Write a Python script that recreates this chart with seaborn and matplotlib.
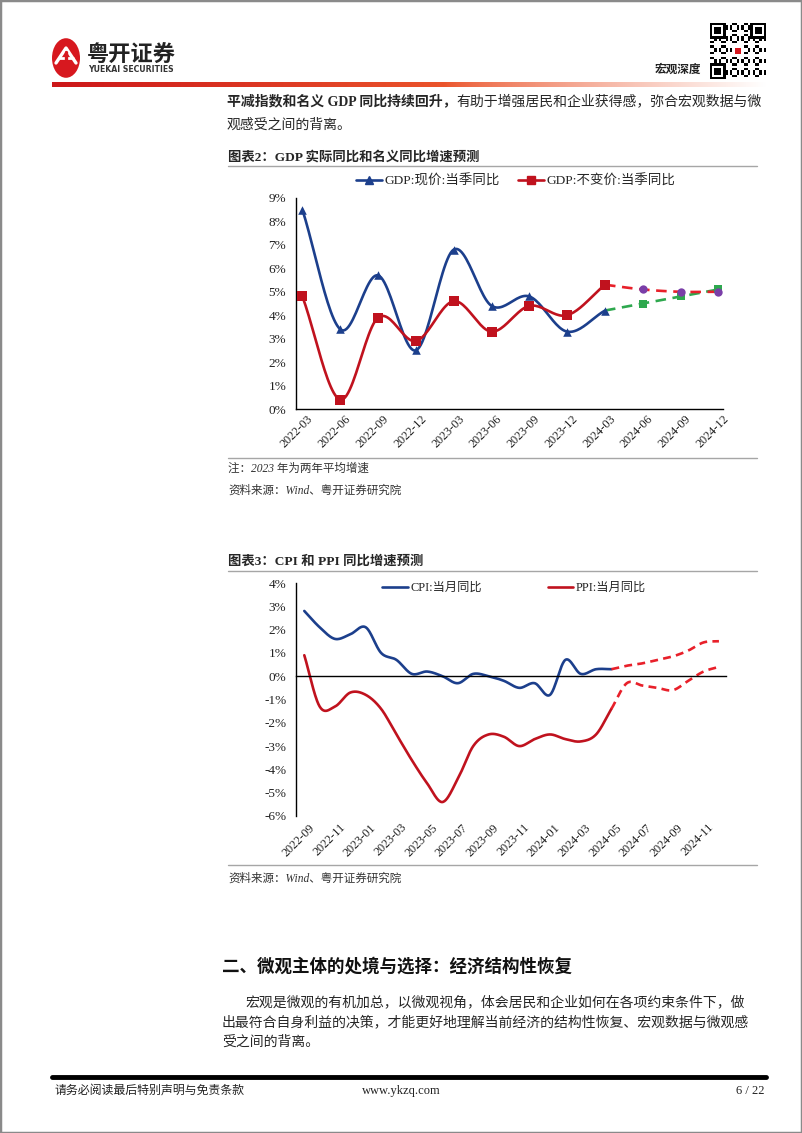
import numpy as np
import matplotlib
matplotlib.use('Agg')
import matplotlib.pyplot as plt
import seaborn as sns
from matplotlib.lines import Line2D
from matplotlib.patches import Rectangle, Circle
from matplotlib.font_manager import FontProperties

# ---------------- data ----------------
gdp_quarters = ['2022-03', '2022-06', '2022-09', '2022-12', '2023-03', '2023-06',
                '2023-09', '2023-12', '2024-03', '2024-06', '2024-09', '2024-12']
gdp_nominal = [8.5, 3.4, 5.7, 2.5, 6.8, 4.4, 4.8, 3.3, 4.2]          # 2022-03 .. 2024-03
gdp_nominal_fcst = [4.2, 4.5, 4.8, 5.1]                              # 2024-03 .. 2024-12
gdp_real = [4.8, 0.4, 3.9, 2.9, 4.6, 3.3, 4.4, 4.0, 5.3]             # 2022-03 .. 2024-03
gdp_real_fcst = [5.3, 5.1, 5.0, 5.0]                                 # 2024-03 .. 2024-12
gdp_yticks = [0, 1, 2, 3, 4, 5, 6, 7, 8, 9]
gdp_yticklabels = ['0%', '1%', '2%', '3%', '4%', '5%', '6%', '7%', '8%', '9%']
gdp_legend = ['GDP:现价:当季同比', 'GDP:不变价:当季同比']

cpi_months = ['2022-09', '2022-10', '2022-11', '2022-12', '2023-01', '2023-02', '2023-03',
              '2023-04', '2023-05', '2023-06', '2023-07', '2023-08', '2023-09', '2023-10',
              '2023-11', '2023-12', '2024-01', '2024-02', '2024-03', '2024-04', '2024-05',
              '2024-06', '2024-07', '2024-08', '2024-09', '2024-10', '2024-11', '2024-12']
cpi_actual = [2.8, 2.1, 1.6, 1.8, 2.1, 1.0, 0.7, 0.1, 0.2, 0.0, -0.3, 0.1, 0.0, -0.2,
              -0.5, -0.3, -0.8, 0.7, 0.1, 0.3, 0.3]                  # 2022-09 .. 2024-05
cpi_fcst = [0.3, 0.45, 0.55, 0.7, 0.85, 1.1, 1.45, 1.5]              # 2024-05 .. 2024-12
ppi_actual = [0.9, -1.3, -1.3, -0.7, -0.8, -1.4, -2.5, -3.6, -4.6, -5.4, -4.4, -3.0,
              -2.5, -2.6, -3.0, -2.7, -2.5, -2.7, -2.8, -2.5, -1.4]  # 2022-09 .. 2024-05
ppi_fcst = [-1.4, -0.3, -0.4, -0.5, -0.6, -0.2, 0.2, 0.4]            # 2024-05 .. 2024-12
cpi_xlabels = ['2022-09', '2022-11', '2023-01', '2023-03', '2023-05', '2023-07', '2023-09',
               '2023-11', '2024-01', '2024-03', '2024-05', '2024-07', '2024-09', '2024-11']
cpi_yticks = [4, 3, 2, 1, 0, -1, -2, -3, -4, -5, -6]
cpi_yticklabels = ['4%', '3%', '2%', '1%', '0%', '-1%', '-2%', '-3%', '-4%', '-5%', '-6%']
cpi_legend = ['CPI:当月同比', 'PPI:当月同比']

# ---------------- style ----------------
sns.set_theme(style='white')
plt.rcParams['font.family'] = ['Liberation Serif', 'Noto Sans CJK SC', 'DejaVu Sans']
plt.rcParams['axes.unicode_minus'] = False

MIX = ['Liberation Serif', 'Noto Sans CJK SC', 'DejaVu Sans']
CJK = ['Noto Sans CJK SC', 'DejaVu Sans']

blue = '#1C3F8C'
red = '#C0121E'
red_d = '#E8202A'
green = '#2EA84E'
purple = '#7A3EA8'

YT = 9.5    # y tick label size
XT = 8.8    # x tick label size

W, H = 802, 1133
fig = plt.figure(figsize=(W / 100, H / 100), dpi=100)
fig.patch.set_facecolor('white')


def fx(x):
    return x / W


def fy(y):
    return 1 - y / H


def add_ax(l, t, r, b):
    return fig.add_axes([l / W, 1 - b / H, (r - l) / W, (b - t) / H])


def T(x, y, s, **kw):
    return fig.text(fx(x), fy(y), s, **kw)


def hline(x0, x1, y, color='#A6A6A6', lw=1.0):
    fig.add_artist(Line2D([fx(x0), fx(x1)], [fy(y), fy(y)], color=color, lw=lw,
                          transform=fig.transFigure))


def smooth(x, y, n=24):
    x = np.asarray(x, float)
    y = np.asarray(y, float)
    if len(x) < 3:
        return x, y
    m = np.zeros_like(y)
    m[1:-1] = (y[2:] - y[:-2]) / (x[2:] - x[:-2])
    m[0] = (y[1] - y[0]) / (x[1] - x[0])
    m[-1] = (y[-1] - y[-2]) / (x[-1] - x[-2])
    xs, ys = [], []
    for i in range(len(x) - 1):
        h = x[i + 1] - x[i]
        t = np.linspace(0, 1, n, endpoint=(i == len(x) - 2))
        h00 = 2 * t**3 - 3 * t**2 + 1
        h10 = t**3 - 2 * t**2 + t
        h01 = -2 * t**3 + 3 * t**2
        h11 = t**3 - t**2
        xs.append(x[i] + t * h)
        ys.append(h00 * y[i] + h10 * h * m[i] + h01 * y[i + 1] + h11 * h * m[i + 1])
    return np.concatenate(xs), np.concatenate(ys)


def sline(ax, x, y, color, lw=1.8, ls='-'):
    xs, ys = smooth(x, y)
    sns.lineplot(x=xs, y=ys, ax=ax, color=color, linewidth=lw, linestyle=ls,
                 sort=False, estimator=None, zorder=2)


renderer = fig.canvas.get_renderer()


def runs(x, y, parts, size, family=MIX):
    for s, w in parts:
        t = fig.text(fx(x), fy(y), s, fontsize=size, fontweight=w, family=family,
                     va='center', ha='left')
        bb = t.get_window_extent(renderer=renderer)
        x += bb.width


# ---------------- page frame / header ----------------
fig.add_artist(Rectangle((0, 0), 1, 1, transform=fig.transFigure, fill=False,
                         edgecolor='#8a8a8a', lw=2.5))

# logo
fig.add_artist(Circle((fx(66), fy(58)), 14 / W, transform=fig.transFigure,
                      facecolor='#D7181F', edgecolor='none'))
fig.add_artist(Line2D([fx(56), fx(66), fx(76)], [fy(63), fy(48), fy(63)], color='white',
                      lw=2.4, transform=fig.transFigure, solid_capstyle='round'))
fig.add_artist(Line2D([fx(59), fx(73)], [fy(58), fy(58)], color='white', lw=2,
                      transform=fig.transFigure))
fig.add_artist(Line2D([fx(66), fx(66)], [fy(52), fy(72)], color='#D7181F', lw=2.4,
                      transform=fig.transFigure))
T(87, 55, '粤开证券', fontsize=16, fontweight='bold', family=CJK, va='center', ha='left',
  color='#222222')
T(88, 70, 'YUEKAI SECURITIES', fontsize=5.6, fontweight='bold', family=['DejaVu Sans'],
  va='center', ha='left', color='#333333')
T(655, 69, '宏观深度', fontsize=8.4, fontweight='bold', family=CJK, va='center', ha='left',
  color='#222222')

# QR-like placeholder
qax = add_ax(710, 22, 766, 80)
N = 25
qr = np.ones((N, N))
ii, jj = np.mgrid[0:N, 0:N]
qr[((ii * 7 + jj * 11 + ii * jj) % 5) < 2] = 0
for (r0, c0) in [(0, 0), (0, N - 7), (N - 7, 0)]:
    qr[r0:r0 + 7, c0:c0 + 7] = 0
    qr[r0 + 1:r0 + 6, c0 + 1:c0 + 6] = 1
    qr[r0 + 2:r0 + 5, c0 + 2:c0 + 5] = 0
qr[10:15, 10:15] = 1
qax.imshow(qr, cmap='gray', interpolation='nearest', vmin=0, vmax=1)
qax.add_patch(Rectangle((10.5, 10.5), 3, 3, facecolor='#D7181F', edgecolor='none'))
qax.axis('off')

# gradient bar
gax = add_ax(52, 82, 766, 87)
g = np.linspace(0, 1, 400)
c0 = np.array([0.80, 0.09, 0.10])
c1 = np.array([0.92, 0.33, 0.17])
col = np.zeros((1, 400, 3))
for k, t in enumerate(g):
    if t < 0.55:
        c = c0 + (c1 - c0) * (t / 0.55)
    else:
        a = (t - 0.55) / 0.45
        c = c1 + (np.array([1, 1, 1]) - c1) * a**0.8
    col[0, k] = c
gax.imshow(col, aspect='auto', interpolation='bilinear')
gax.axis('off')

# body text top
runs(227, 101, [('平减指数和名义 GDP 同比持续回升，', 'bold'),
                ('有助于增强居民和企业获得感，弥合宏观数据与微', 'normal')], 10)
T(227, 125, '观感受之间的背离。', fontsize=10, family=MIX, va='center', ha='left')

# ---------------- chart 2 (GDP) ----------------
T(228, 157, '图表2：GDP 实际同比和名义同比增速预测', fontsize=9.6, fontweight='bold',
  family=MIX, va='center', ha='left')
hline(228, 757, 166)

ax1 = add_ax(296, 198, 723, 409)
xq = np.arange(len(gdp_quarters))
n_act = len(gdp_nominal)
x_act = xq[:n_act]
x_f = xq[n_act - 1:]

sline(ax1, x_act, gdp_nominal, blue, lw=1.9)
sline(ax1, x_act, gdp_real, red, lw=1.9)
sline(ax1, x_f, gdp_nominal_fcst, green, lw=1.9, ls=(0, (4, 2.5)))
sline(ax1, x_f, gdp_real_fcst, red_d, lw=1.9, ls=(0, (4, 2.5)))

sns.scatterplot(x=x_act, y=gdp_nominal, marker='^', s=38, color=blue, edgecolor=blue,
                linewidth=0, ax=ax1, zorder=4)
sns.scatterplot(x=x_act, y=gdp_real, marker='s', s=42, color=red, edgecolor=red,
                linewidth=0, ax=ax1, zorder=4)
sns.scatterplot(x=x_f[1:], y=gdp_nominal_fcst[1:], marker='s', s=38, color=green,
                edgecolor=green, linewidth=0, ax=ax1, zorder=4)
sns.scatterplot(x=x_f[1:], y=gdp_real_fcst[1:], marker='o', s=36, color=purple,
                edgecolor=purple, linewidth=0, ax=ax1, zorder=5)

ax1.set_xlim(-0.17, 11.07)
ax1.set_ylim(0, 9)
for s in ['top', 'right']:
    ax1.spines[s].set_visible(False)
for s in ['left', 'bottom']:
    ax1.spines[s].set_color('black')
    ax1.spines[s].set_linewidth(1.0)
ax1.set_yticks(gdp_yticks, gdp_yticklabels)
ax1.set_xticks(xq + 0.12, gdp_quarters, rotation=45, ha='right', va='top',
               rotation_mode='anchor')
ax1.set_xticks(xq - 0.17, minor=True)
ax1.tick_params(axis='x', which='major', length=0, pad=3, labelsize=XT, colors='#222222')
ax1.tick_params(axis='x', which='minor', length=4, width=1, direction='out', color='black')
ax1.tick_params(axis='y', which='major', length=4, width=1, direction='out', pad=3,
                labelsize=YT, color='black', labelcolor='#222222')
ax1.grid(False)

h1 = [Line2D([], [], color=blue, lw=1.9, marker='^', ms=5.5),
      Line2D([], [], color=red, lw=1.9, marker='s', ms=5.5)]
fig.legend(h1, gdp_legend, loc='center', bbox_to_anchor=(fx(516), fy(181)), ncol=2,
           frameon=False, handlelength=1.9, handletextpad=0.2, columnspacing=1.35,
           prop=FontProperties(family=MIX, size=9.7))

hline(228, 757, 458)
T(228, 469, '注：2023 年为两年平均增速', fontsize=8.3, style='italic', family=MIX,
  va='center', ha='left', color='#333333')
T(228, 491, '资料来源：Wind、粤开证券研究院', fontsize=8.3, style='italic', family=MIX,
  va='center', ha='left', color='#333333')

# ---------------- chart 3 (CPI / PPI) ----------------
T(228, 561, '图表3：CPI 和 PPI 同比增速预测', fontsize=9.6, fontweight='bold',
  family=MIX, va='center', ha='left')
hline(228, 757, 571)

ax2 = add_ax(296, 583, 726, 816)
xm = np.arange(len(cpi_months))
na = len(cpi_actual)
xa = xm[:na]
xf = xm[na - 1:]

sline(ax2, xa, cpi_actual, blue, lw=1.9)
sline(ax2, xa, ppi_actual, red, lw=1.9)
sline(ax2, xf, cpi_fcst, red_d, lw=1.9, ls=(0, (3, 2)))
sline(ax2, xf, ppi_fcst, red_d, lw=1.9, ls=(0, (3, 2)))

ax2.set_xlim(-0.54, 27.46)
ax2.set_ylim(-6, 4)
for s in ['top', 'right']:
    ax2.spines[s].set_visible(False)
ax2.spines['left'].set_color('black')
ax2.spines['left'].set_linewidth(1.0)
ax2.spines['bottom'].set_position(('data', 0))
ax2.spines['bottom'].set_color('black')
ax2.spines['bottom'].set_linewidth(1.0)
ax2.set_yticks(cpi_yticks, cpi_yticklabels)
ax2.set_xticks([])
ax2.set_xticks(np.arange(-0.54, 27.5, 2.0), minor=True)
ax2.tick_params(axis='x', which='minor', length=4, width=1, direction='out', color='black',
                labelbottom=False)
ax2.tick_params(axis='y', which='major', length=4, width=1, direction='out', pad=3,
                labelsize=YT, color='black', labelcolor='#222222')
ax2.grid(False)
for k, lab in enumerate(cpi_xlabels):
    ax2.annotate(lab, xy=(2 * k, -6), xytext=(3, -4), textcoords='offset points',
                 rotation=45, ha='right', va='top', rotation_mode='anchor',
                 fontsize=XT, color='#222222', annotation_clip=False)

h2 = [Line2D([], [], color=blue, lw=1.9), Line2D([], [], color=red, lw=1.9)]
fig.legend(h2, cpi_legend, loc='center', bbox_to_anchor=(fx(514), fy(588)), ncol=2,
           frameon=False, handlelength=2.1, handletextpad=0.2, columnspacing=5.4,
           prop=FontProperties(family=MIX, size=8.8))

hline(228, 757, 865)
T(228, 879, '资料来源：Wind、粤开证券研究院', fontsize=8.3, style='italic', family=MIX,
  va='center', ha='left', color='#333333')

# ---------------- section heading & paragraph ----------------
T(222, 967, '二、微观主体的处境与选择：经济结构性恢复', fontsize=12.6, fontweight='bold',
  family=CJK, va='center', ha='left', color='#111111')
T(245, 1002, '宏观是微观的有机加总，以微观视角，体会居民和企业如何在各项约束条件下，做',
  fontsize=10, family=MIX, va='center', ha='left')
T(222, 1022, '出最符合自身利益的决策，才能更好地理解当前经济的结构性恢复、宏观数据与微观感',
  fontsize=10, family=MIX, va='center', ha='left')
T(222, 1042, '受之间的背离。', fontsize=10, family=MIX, va='center', ha='left')

# ---------------- footer ----------------
hline(52, 766, 1077, color='black', lw=3.5)
T(55, 1091, '请务必阅读最后特别声明与免责条款', fontsize=8.6, family=MIX, va='center',
  ha='left', color='#222222')
T(401, 1091, 'www.ykzq.com', fontsize=9, family=MIX, va='center', ha='center',
  color='#222222')
T(765, 1091, '6 / 22', fontsize=9, family=MIX, va='center', ha='right', color='#222222')

fig.savefig('out.png', dpi=100, facecolor='white')
